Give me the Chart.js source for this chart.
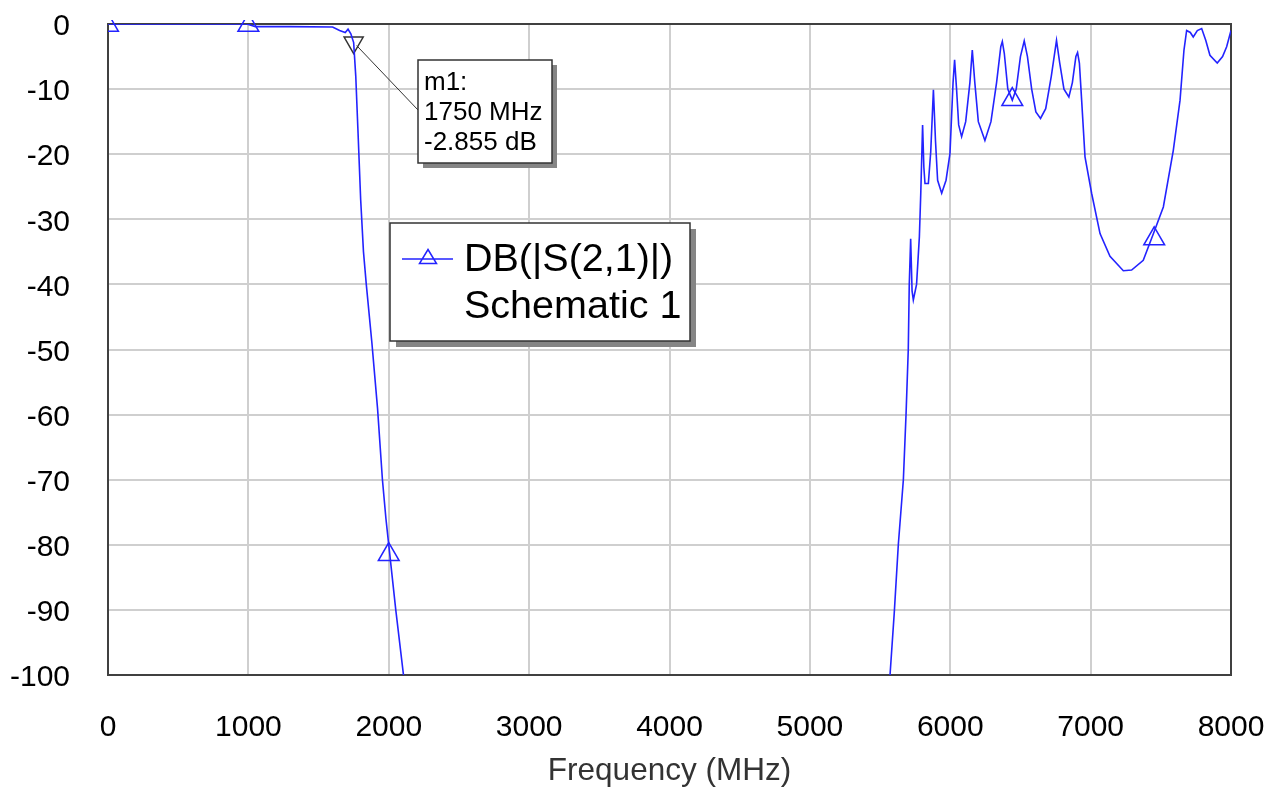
<!DOCTYPE html>
<html>
<head>
<meta charset="utf-8">
<title>DB(|S(2,1)|)</title>
<script src="https://cdn.jsdelivr.net/npm/chart.js@4"></script>
<style>
  html, body { margin: 0; padding: 0; background: #fff; }
  #wrap { width: 1266px; height: 787px; }
</style>
</head>
<body>
<div id="wrap"><canvas id="chart" width="1266" height="787"></canvas></div>
<script>
"use strict";

// S21 trace (values below -100 dB are clipped by the axis)
var freqMHz = [
  0, 500, 990, 1050, 1300, 1600, 1650, 1690, 1710, 1730, 1750, 1765, 1780, 1800,
  1820, 1840, 1880, 1920, 1955, 1980, 2000, 2050, 2105, 2150,
  5530, 5571, 5601, 5630, 5666, 5685, 5701, 5708, 5718, 5728, 5737, 5760, 5780,
  5790, 5803, 5812, 5820, 5844, 5861, 5880, 5895, 5910, 5939, 5970, 5998, 6020,
  6031, 6045, 6060, 6081, 6110, 6140, 6157, 6175, 6200, 6247, 6290, 6330, 6360,
  6371, 6385, 6410, 6442, 6470, 6500, 6527, 6550, 6580, 6610, 6643, 6680, 6720,
  6757, 6780, 6810, 6845, 6870, 6895, 6907, 6920, 6936, 6960, 7007, 7067, 7138,
  7233, 7292, 7375, 7451, 7518, 7589, 7637, 7665, 7684, 7710, 7731, 7760, 7791,
  7820, 7850, 7902, 7940, 7969, 8000
];
var s21dB = [
  0, 0, 0, -0.4, -0.4, -0.45, -1.0, -1.3, -0.8, -1.5, -2.855, -8, -16, -27,
  -35, -40, -49, -59, -70, -76, -80, -90, -100, -110,
  -110, -100, -90.5, -80, -70, -60, -50, -40, -33, -41, -42.4, -40, -32.7,
  -26, -15.5, -22, -24.5, -24.5, -19.6, -10.1, -18, -24, -26, -24, -19.9, -9,
  -5.5, -10, -15.5, -17.3, -15, -9, -4.0, -9, -15, -17.9, -15, -9, -3.5,
  -2.7, -4.5, -10, -11.7, -10, -5, -2.6, -5, -10, -13.5, -14.5, -13, -8,
  -2.5, -6, -10, -11.2, -9, -5, -4.4, -6, -11.7, -20.4, -26.0, -32.2, -35.7,
  -37.9, -37.8, -36.3, -32, -28.1, -19.4, -11.7, -4.0, -1.0, -1.3, -2.0, -1.0, -0.7,
  -2.5, -4.8, -6.0, -5.0, -3.5, -1.0
];

// trace symbols (open triangles)
var symbolFreq = [0, 1000, 2000, 6442, 7453];
var symbolDB = [-0.2, -0.2, -81.5, -11.6, -33.0];

// marker m1
var m1Freq = [1750];
var m1DB = [-2.855];
var m1Lines = ["m1:", "1750 MHz", "-2.855 dB"];

var legendLines = ["DB(|S(2,1)|)", "Schematic 1"];

var xTicks = [0, 1000, 2000, 3000, 4000, 5000, 6000, 7000, 8000];
var yTicks = [0, -10, -20, -30, -40, -50, -60, -70, -80, -90, -100];

var FONT = "'Liberation Sans', Arial, sans-serif";
var TRACE = "rgb(35,35,255)";

function pts(xs, ys) {
  return xs.map(function (x, i) { return { x: x, y: ys[i] }; });
}

function shadowBox(ctx, x, y, w, h, off) {
  ctx.fillStyle = "#858585";
  ctx.fillRect(x + off, y + off, w, h);
  ctx.fillStyle = "#fff";
  ctx.fillRect(x, y, w, h);
  ctx.strokeStyle = "#333";
  ctx.lineWidth = 1.5;
  ctx.strokeRect(x, y, w, h);
}

var framePlugin = {
  id: "frame",
  beforeDatasetsDraw: function (chart) {
    var a = chart.chartArea, ctx = chart.ctx;
    ctx.save();
    ctx.strokeStyle = "#404040";
    ctx.lineWidth = 2;
    ctx.strokeRect(a.left, a.top, a.right - a.left, a.bottom - a.top);
    ctx.restore();
  }
};

var notePlugin = {
  id: "notes",
  afterDraw: function (chart) {
    var ctx = chart.ctx;
    var xs = chart.scales.x, ys = chart.scales.y;
    ctx.save();

    // m1 leader + box
    var mx = xs.getPixelForValue(m1Freq[0]);
    var my = ys.getPixelForValue(m1DB[0]);
    ctx.strokeStyle = "#333";
    ctx.lineWidth = 1;
    ctx.beginPath();
    ctx.moveTo(mx + 3, my + 3);
    ctx.lineTo(418, 110);
    ctx.stroke();

    shadowBox(ctx, 418, 60, 134, 103, 5);
    ctx.fillStyle = "#000";
    ctx.font = "26px " + FONT;
    ctx.textAlign = "left";
    ctx.textBaseline = "alphabetic";
    m1Lines.forEach(function (t, i) {
      ctx.fillText(t, 424, 90 + i * 30);
    });

    // legend box
    shadowBox(ctx, 390, 223, 300, 118, 6);
    ctx.strokeStyle = TRACE;
    ctx.lineWidth = 1.5;
    ctx.beginPath();
    ctx.moveTo(402, 259);
    ctx.lineTo(453, 259);
    ctx.moveTo(428, 249.5);
    ctx.lineTo(436.5, 263.5);
    ctx.lineTo(419.5, 263.5);
    ctx.closePath();
    ctx.stroke();

    ctx.fillStyle = "#000";
    ctx.font = "39.5px " + FONT;
    ctx.fillText(legendLines[0], 464, 271);
    ctx.fillText(legendLines[1], 464, 318);
    ctx.restore();
  }
};

var ctx = document.getElementById("chart").getContext("2d");
var chart = new Chart(ctx, {
  type: "line",
  data: {
    datasets: [
      {
        label: "DB(|S(2,1)|)",
        data: pts(freqMHz, s21dB),
        borderColor: TRACE,
        borderWidth: 1.6,
        pointRadius: 0,
        tension: 0,
        fill: false
      },
      {
        label: "symbols",
        data: pts(symbolFreq, symbolDB),
        showLine: false,
        pointStyle: "triangle",
        pointRadius: 12,
        borderColor: TRACE,
        borderWidth: 1.5,
        backgroundColor: "rgba(0,0,0,0)",
        clip: { left: 0, top: 4, right: 0, bottom: 0 }
      },
      {
        label: "m1",
        data: pts(m1Freq, m1DB),
        showLine: false,
        pointStyle: "triangle",
        rotation: 180,
        pointRadius: 11,
        borderColor: "#333",
        borderWidth: 1.5,
        backgroundColor: "rgba(0,0,0,0)",
        clip: false
      }
    ]
  },
  options: {
    responsive: false,
    animation: false,
    events: [],
    layout: { padding: { left: 0, top: 24, right: 35, bottom: 0 } },
    plugins: {
      legend: { display: false },
      tooltip: { enabled: false }
    },
    scales: {
      x: {
        type: "linear",
        min: 0,
        max: 8000,
        afterFit: function (s) {
          s.height = 112;
          s.paddingLeft = 0;
          s.paddingRight = 0;
        },
        afterBuildTicks: function (s) {
          s.ticks = xTicks.map(function (v) { return { value: v }; });
        },
        grid: { color: "#cfcfcf", lineWidth: 2, drawTicks: false },
        border: { display: false },
        ticks: {
          padding: 35,
          maxRotation: 0,
          autoSkip: false,
          color: "#000",
          font: { family: FONT, size: 30 },
          callback: function (v) { return String(v); }
        },
        title: {
          display: true,
          text: "Frequency (MHz)",
          color: "#333",
          font: { family: FONT, size: 31.5, lineHeight: 1 },
          padding: { top: 0, bottom: 0 }
        }
      },
      y: {
        type: "linear",
        min: -100,
        max: 0,
        afterFit: function (s) {
          s.width = 108;
          s.paddingTop = 0;
          s.paddingBottom = 0;
        },
        afterBuildTicks: function (s) {
          s.ticks = yTicks.map(function (v) { return { value: v }; });
        },
        grid: { color: "#cfcfcf", lineWidth: 2, drawTicks: false },
        border: { display: false },
        ticks: {
          padding: 38,
          labelOffset: 3,
          autoSkip: false,
          color: "#000",
          font: { family: FONT, size: 30 },
          callback: function (v) { return String(v); }
        }
      }
    }
  },
  plugins: [framePlugin, notePlugin]
});
</script>
</body>
</html>
